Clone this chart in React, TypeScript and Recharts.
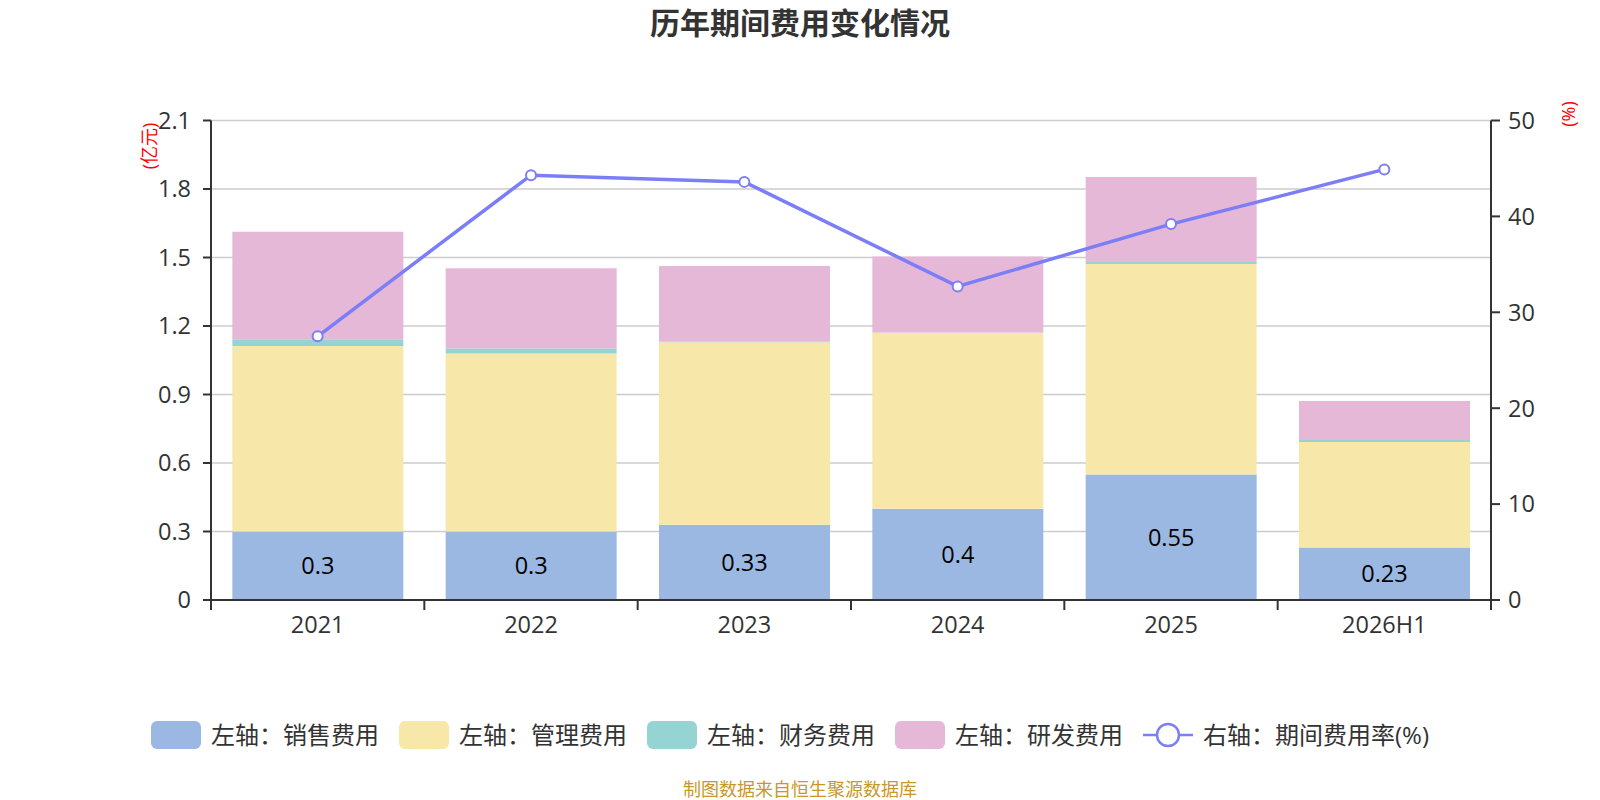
import React from 'react';
import {
  ComposedChart,
  Bar,
  Line,
  XAxis,
  YAxis,
  CartesianGrid,
  LabelList,
} from 'recharts';

const years = ['2021', '2022', '2023', '2024', '2025', '2026H1'];
const sales = [0.3, 0.3, 0.33, 0.4, 0.55, 0.23];
const admin = [0.812, 0.78, 0.799, 0.77, 0.921, 0.462];
const finance = [0.03, 0.021, 0.002, 0.002, 0.009, 0.009];
const rnd = [0.471, 0.352, 0.332, 0.332, 0.373, 0.171];
const rate = [27.5, 44.3, 43.6, 32.7, 39.2, 44.9];

const leftTicks = [0, 0.3, 0.6, 0.9, 1.2, 1.5, 1.8, 2.1];
const rightTicks = [0, 10, 20, 30, 40, 50];

const COLORS = {
  sales: '#9bb8e2',
  admin: '#f7e7a9',
  finance: '#96d4d4',
  rnd: '#e6b8d8',
  rate: '#7b7ef6',
};

const legendItems = [
  { name: '左轴：销售费用', color: COLORS.sales, type: 'rect' },
  { name: '左轴：管理费用', color: COLORS.admin, type: 'rect' },
  { name: '左轴：财务费用', color: COLORS.finance, type: 'rect' },
  { name: '左轴：研发费用', color: COLORS.rnd, type: 'rect' },
  { name: '右轴：期间费用率(%)', color: COLORS.rate, type: 'line' },
];

const data = years.map((y, i) => ({
  year: y,
  sales: sales[i],
  admin: admin[i],
  finance: finance[i],
  rnd: rnd[i],
  rate: rate[i],
}));

const FONT = "'Open Sans', 'Noto Sans CJK SC', sans-serif";
const tickStyle = { fill: '#333', fontSize: 23.5, fontFamily: FONT };

const X_TICK_SIZE = 10;
const X_TICK_MARGIN = 6;

// Category tick: label at the band centre, tick marks at the band boundaries
const CategoryTick = (props: any) => {
  const { x, y, payload, index } = props;
  const half = payload && payload.offset ? payload.offset : 0;
  const axisY = y - X_TICK_SIZE - X_TICK_MARGIN;
  return (
    <g>
      <line x1={x - half} x2={x - half} y1={axisY} y2={axisY + X_TICK_SIZE} stroke="#333" strokeWidth={2} />
      {index === years.length - 1 && (
        <line x1={x + half} x2={x + half} y1={axisY} y2={axisY + X_TICK_SIZE} stroke="#333" strokeWidth={2} />
      )}
      <text x={x} y={y} dy="0.71em" textAnchor="middle" fill="#333" fontSize={23.5} fontFamily={FONT}>
        {payload.value}
      </text>
    </g>
  );
};

export default function App() {
  return (
    <div
      style={{
        position: 'absolute',
        left: 0,
        top: 0,
        width: 1600,
        height: 800,
        background: '#fff',
        fontFamily: FONT,
        overflow: 'hidden',
      }}
    >
      <div
        style={{
          position: 'absolute',
          left: 0,
          top: 0,
          width: 1600,
          textAlign: 'center',
          fontSize: 30,
          fontWeight: 'bold',
          color: '#333',
          lineHeight: '46px',
        }}
      >
        历年期间费用变化情况
      </div>

      <ComposedChart
        width={1600}
        height={800}
        data={data}
        margin={{ top: 120.5, right: 39, left: 141, bottom: 160 }}
        barCategoryGap="10%"
      >
        <CartesianGrid
          vertical={false}
          stroke="#ccc"
          strokeWidth={1.5}
          yAxisId="left"
          xAxisId="cat"
        />
        <XAxis
          xAxisId="cat"
          dataKey="year"
          tick={<CategoryTick />}
          tickLine={false}
          tickSize={X_TICK_SIZE}
          tickMargin={X_TICK_MARGIN}
          axisLine={{ stroke: '#333', strokeWidth: 2 }}
          height={40}
          interval={0}
        />
        <YAxis
          yAxisId="left"
          domain={[0, 2.1]}
          ticks={leftTicks}
          tickFormatter={(v: number) => (v === 0 ? '0' : v.toFixed(1))}
          tick={tickStyle}
          tickSize={8}
          tickMargin={12}
          tickLine={{ stroke: '#333', strokeWidth: 2 }}
          axisLine={{ stroke: '#333', strokeWidth: 2 }}
          width={70}
          allowDataOverflow
        />
        <YAxis
          yAxisId="right"
          orientation="right"
          domain={[0, 50]}
          ticks={rightTicks}
          tick={tickStyle}
          tickSize={9}
          tickMargin={8}
          tickLine={{ stroke: '#333', strokeWidth: 2 }}
          axisLine={{ stroke: '#333', strokeWidth: 2 }}
          width={70}
          allowDataOverflow
        />
        <Bar dataKey="sales" stackId="a" xAxisId="cat" yAxisId="left" fill={COLORS.sales} isAnimationActive={false}>
          <LabelList dataKey="sales" position="center" fill="#000" fontSize={23.5} fontFamily={FONT} />
        </Bar>
        <Bar dataKey="admin" stackId="a" xAxisId="cat" yAxisId="left" fill={COLORS.admin} isAnimationActive={false} />
        <Bar dataKey="finance" stackId="a" xAxisId="cat" yAxisId="left" fill={COLORS.finance} isAnimationActive={false} />
        <Bar dataKey="rnd" stackId="a" xAxisId="cat" yAxisId="left" fill={COLORS.rnd} isAnimationActive={false} />
        <Line
          dataKey="rate"
          xAxisId="cat"
          yAxisId="right"
          stroke={COLORS.rate}
          strokeWidth={3.5}
          dot={{ r: 5, fill: '#fff', stroke: COLORS.rate, strokeWidth: 2 }}
          activeDot={false}
          isAnimationActive={false}
        />
      </ComposedChart>

      <div
        style={{
          position: 'absolute',
          left: 148.7,
          top: 145.5,
          transform: 'translate(-50%, -50%) rotate(-90deg)',
          color: 'red',
          fontSize: 18,
          whiteSpace: 'nowrap',
          lineHeight: '20px',
        }}
      >
        (亿元)
      </div>
      <div
        style={{
          position: 'absolute',
          left: 1568,
          top: 114,
          transform: 'translate(-50%, -50%) rotate(-90deg)',
          color: 'red',
          fontSize: 18,
          whiteSpace: 'nowrap',
          lineHeight: '20px',
        }}
      >
        (%)
      </div>

      <div
        style={{
          position: 'absolute',
          left: 151,
          top: 721,
          display: 'flex',
          alignItems: 'center',
          height: 28,
        }}
      >
        {legendItems.map((it) => (
          <div key={it.name} style={{ display: 'flex', alignItems: 'center', marginRight: 20 }}>
            {it.type === 'rect' ? (
              <div style={{ width: 50, height: 28, borderRadius: 6, background: it.color }} />
            ) : (
              <svg width={50} height={28}>
                <line x1={0} y1={14} x2={50} y2={14} stroke={it.color} strokeWidth={2.5} />
                <circle cx={25} cy={14} r={11} fill="#fff" stroke={it.color} strokeWidth={2.5} />
              </svg>
            )}
            <span style={{ marginLeft: 10, fontSize: 24, color: '#333', lineHeight: '28px', whiteSpace: 'nowrap' }}>
              {it.name}
            </span>
          </div>
        ))}
      </div>

      <div
        style={{
          position: 'absolute',
          left: 0,
          top: 778,
          width: 1600,
          textAlign: 'center',
          fontSize: 18,
          color: '#c9972b',
          lineHeight: '22px',
        }}
      >
        制图数据来自恒生聚源数据库
      </div>
    </div>
  );
}
